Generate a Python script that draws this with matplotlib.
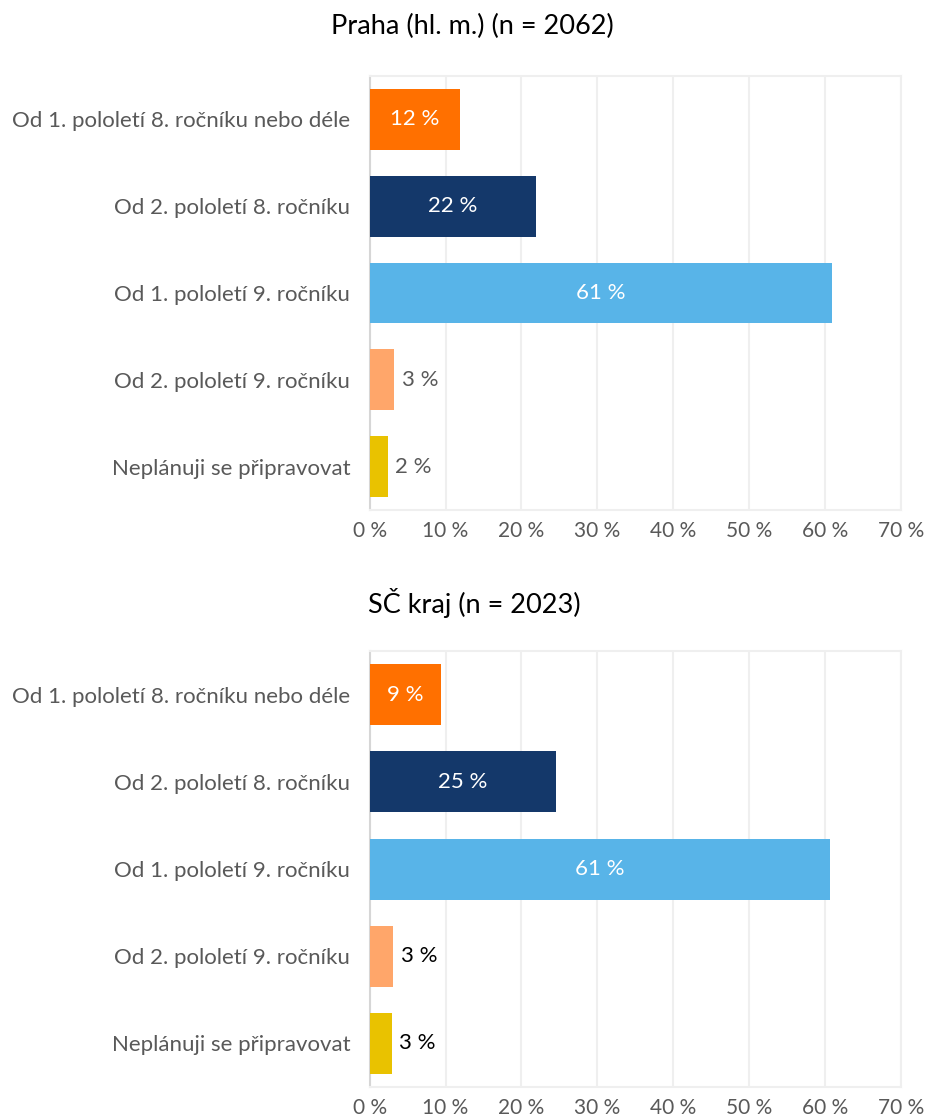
import matplotlib.pyplot as plt

plt.rcParams['font.family'] = ['Lato', 'DejaVu Sans']

# data -------------------------------------------------------------------
categories = [
    "Od 1. pololetí 8. ročníku nebo déle",
    "Od 2. pololetí 8. ročníku",
    "Od 1. pololetí 9. ročníku",
    "Od 2. pololetí 9. ročníku",
    "Neplánuji se připravovat",
]
praha_values = [11.9, 21.9, 60.9, 3.2, 2.4]
sc_values = [9.4, 24.6, 60.7, 3.1, 2.9]
praha_title = "Praha (hl. m.) (n = 2062)"
sc_title = "SČ kraj (n = 2023)"
xticks = [0, 10, 20, 30, 40, 50, 60, 70]
colors = ["#FF7000", "#14386A", "#58B4E8", "#FFA66A", "#E9C200"]
# ------------------------------------------------------------------------

fig = plt.figure(figsize=(9.28, 11.18), dpi=100)


def draw_panel(ax, values, small_label_color):
    y = list(range(len(categories)))
    ax.barh(y, values, height=0.7, color=colors, zorder=3)
    ax.set_ylim(len(categories) - 0.5, -0.5)
    ax.set_xlim(0, 70)
    ax.set_xticks(xticks)
    ax.set_xticklabels([f"{t} %" for t in xticks], fontsize=15, color="#595959")
    ax.set_yticks(y)
    ax.set_yticklabels(categories, fontsize=16, color="#595959")
    ax.tick_params(axis='both', length=0)
    ax.tick_params(axis='y', pad=14)
    ax.tick_params(axis='x', pad=8)
    ax.grid(axis='x', color="#EFEFEF", linewidth=1.5, zorder=0)
    for side in ['top', 'right', 'bottom']:
        ax.spines[side].set_color("#EFEFEF")
        ax.spines[side].set_linewidth(1.5)
    ax.spines['left'].set_color("#D6D6D6")
    ax.spines['left'].set_linewidth(1.5)
    for i, v in enumerate(values):
        txt = f"{round(v)} %"
        if v > 8:
            ax.text(v / 2, i, txt, ha='center', va='center', fontsize=16,
                    color='white', zorder=4)
        else:
            ax.text(v + 1.0, i, txt, ha='left', va='center', fontsize=16,
                    color=small_label_color, zorder=4)


ax1 = fig.add_axes([0.3983, 0.5438, 0.5726, 0.3882])
draw_panel(ax1, praha_values, "#595959")
fig.text(0.509, 0.976, praha_title, ha='center', va='center', fontsize=19.5, color='black')

ax2 = fig.add_axes([0.3983, 0.0277, 0.5726, 0.3900])
draw_panel(ax2, sc_values, "black")
fig.text(0.511, 0.4607, sc_title, ha='center', va='center', fontsize=19.5, color='black')

fig.savefig("out.png", dpi=100)
